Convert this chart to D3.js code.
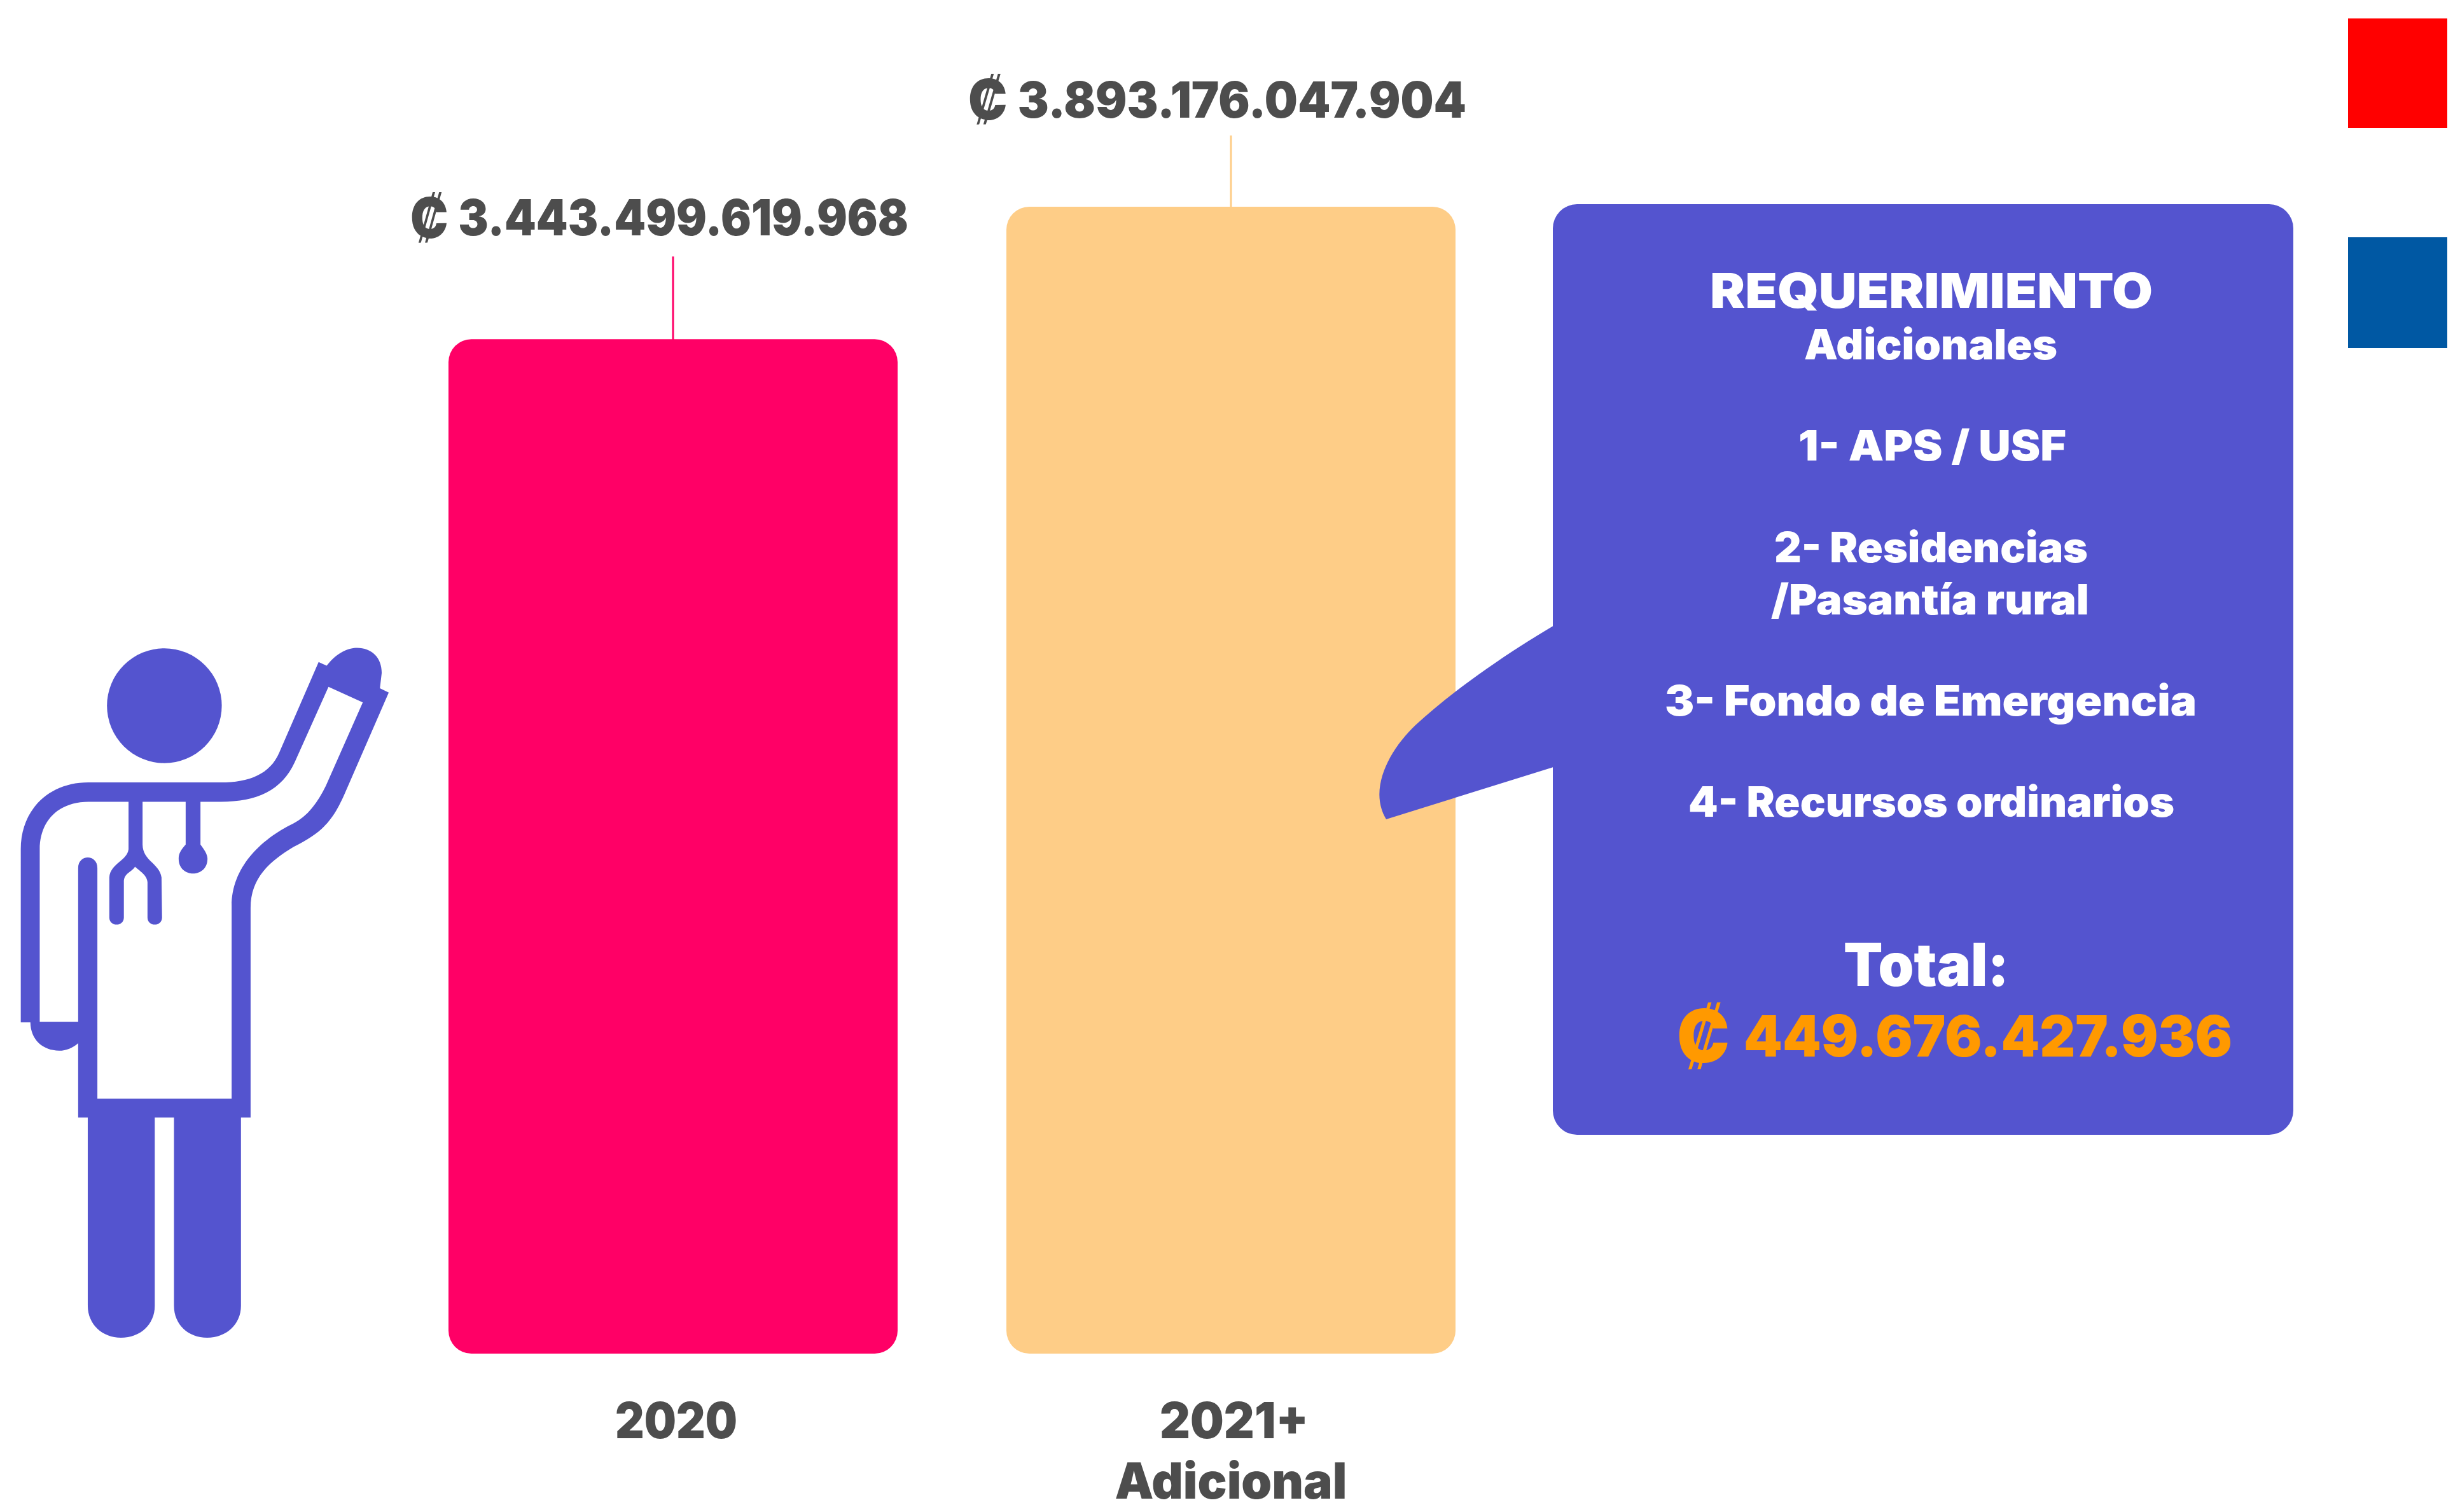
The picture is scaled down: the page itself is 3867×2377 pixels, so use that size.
<!DOCTYPE html>
<html>
<head>
<meta charset="utf-8">
<style>
  html, body { margin: 0; padding: 0; background: #fff; }
  svg { display: block; }
  text { font-family: Inter, "DejaVu Sans", sans-serif; font-weight: 900; }
</style>
<script src="https://cdn.jsdelivr.net/npm/d3@7"></script>
</head>
<body>
<div id="canvas"></div>
<script>
const categories = ["2020", "2021+\nAdicional"];
const values = [3443499619968, 3893176047904];
const valueLabels = ["3.443.499.619.968", "3.893.176.047.904"];
const barColors = ["#ff0066", "#fecd87"];
const legendColors = ["#ff0000", "#0058a3"];
const panelLines = [
  "REQUERIMIENTO", "Adicionales", "1- APS / USF", "2- Residencias",
  "/Pasantía rural", "3- Fondo de Emergencia", "4- Recursos ordinarios", "Total:",
  "449.676.427.936",
];
const currency = "₡ ";

const width = 3867;
const height = 2377;
const purple = "#5454cf";
const grey = "#4d4d4d";

const svg = d3.select("#canvas").append("svg")
  .attr("width", width)
  .attr("height", height);

const x = d3.scaleBand().domain(categories).range([705, 2288]).paddingInner(0.195);
const y = d3.scaleLinear().domain([0, values[1]]).range([2128, 325]);

// stretch a text to the width it has in the reference
function fit(sel, x0, x1) {
  return sel.attr("x", x0).attr("textLength", x1 - x0).attr("lengthAdjust", "spacingAndGlyphs");
}

// money text: the colon sign is drawn bigger than the digits in the source
function money(sel, amount, size, grow) {
  const shift = size * (grow - 1) * 0.36;
  sel.append("tspan").attr("font-size", size * grow).attr("dy", shift).text(currency);
  sel.append("tspan").attr("dy", -shift).text(amount);
}

const leaderGap = [130, 112];
const labelGap = [163, 140];

// leader lines sit behind the bars
svg.selectAll(".leader")
  .data(categories)
  .enter()
  .append("line")
  .attr("class", "leader")
  .attr("x1", (d) => x(d) + x.bandwidth() / 2)
  .attr("x2", (d) => x(d) + x.bandwidth() / 2)
  .attr("y1", (d, i) => y(values[i]) - leaderGap[i])
  .attr("y2", (d, i) => y(values[i]) + 2)
  .attr("stroke", (d, i) => barColors[i])
  .attr("stroke-width", 3);

svg.selectAll(".bar")
  .data(categories)
  .enter()
  .append("rect")
  .attr("class", "bar")
  .attr("x", (d) => x(d))
  .attr("y", (d, i) => y(values[i]))
  .attr("width", x.bandwidth())
  .attr("height", (d, i) => y(0) - y(values[i]))
  .attr("rx", 36)
  .attr("fill", (d, i) => barColors[i]);

// value labels above the leaders
svg.selectAll(".value")
  .data(valueLabels)
  .enter()
  .append("text")
  .attr("class", "value")
  .attr("y", (d, i) => y(values[i]) - labelGap[i])
  .attr("font-size", 78)
  .attr("fill", grey)
  .each(function (d, i) {
    const c = x(categories[i]) + x.bandwidth() / 2;
    const t = d3.select(this);
    money(t, d, 78, 1.12);
    fit(t, c - 413, c + 370);
  });

// category axis, second line of a label goes in a tspan
const axisWidths = { "2020": 192, "2021+": 234, "Adicional": 365 };
const axis = svg.append("g")
  .attr("transform", "translate(0,2128)")
  .call(d3.axisBottom(x).tickSize(0).tickPadding(0));
axis.select(".domain").remove();
axis.selectAll(".tick text").each(function (d) {
  const t = d3.select(this).text(null)
    .attr("y", 133).attr("dy", null)
    .attr("font-size", 78).attr("font-family", null)
    .style("fill", grey);
  d.split("\n").forEach((part, i) => {
    t.append("tspan")
      .attr("x", part === "Adicional" ? 0 : 5)
      .attr("dy", i ? 95 : 0)
      .attr("textLength", axisWidths[part])
      .attr("lengthAdjust", "spacingAndGlyphs")
      .text(part);
  });
});

// legend swatches, no labels in the source
svg.selectAll(".swatch")
  .data(legendColors)
  .enter()
  .append("rect")
  .attr("class", "swatch")
  .attr("x", 3691)
  .attr("y", (d, i) => 29 + i * 344)
  .attr("width", 156)
  .attr("height", (d, i) => 172 + i * 2)
  .attr("fill", (d) => d);

// speech bubble
svg.append("rect")
  .attr("x", 2441).attr("y", 321)
  .attr("width", 1164).attr("height", 1463)
  .attr("rx", 38)
  .attr("fill", purple);
svg.append("path")
  .attr("d", "M2445,982 C2380,1020 2290,1080 2225,1140 C2185,1178 2150,1240 2179,1288 L2445,1205 Z")
  .attr("fill", purple);

const panelLayout = [
  [2688, 3384, 484, 76], [2836, 3234, 565, 66], [2827, 3248, 724, 66], [2789, 3282, 884, 66],
  [2784, 3284, 966, 66], [2617, 3453, 1125, 66], [2654, 3418, 1284, 66], [2898, 3158, 1550, 94],
  [2636, 3509, 1661, 90],
];
svg.selectAll(".panel-line")
  .data(panelLines)
  .enter()
  .append("text")
  .attr("class", "panel-line")
  .attr("y", (d, i) => panelLayout[i][2])
  .attr("font-size", (d, i) => panelLayout[i][3])
  .attr("fill", (d, i) => (i === panelLines.length - 1 ? "#ff9900" : "#fff"))
  .each(function (d, i) {
    const t = d3.select(this);
    if (i === panelLines.length - 1) money(t, d, panelLayout[i][3], 1.28);
    else t.text(d);
    fit(t, panelLayout[i][0], panelLayout[i][1]);
  });

const person = svg.append("g")
  .attr("transform", "translate(0,980) scale(0.4082,0.7398)")
  .attr("fill", purple);
person.append("ellipse").attr("cx", 633).attr("cy", 175).attr("rx", 221).attr("ry", 122);
person.append("path")
  .attr("fill-rule", "evenodd")
  .attr("d", "M1227,82 L1258,90 C1300,60 1345,52 1375,52 C1430,52 1470,72 1470,105 L1463,138 L1497,147 " +
    "L1325,365 C1280,420 1240,445 1130,475 C1040,505 965,540 965,605 L965,1050 L928,1050 L928,1450 " +
    "C928,1490 870,1518 798,1518 C725,1518 670,1490 670,1450 L670,1050 L596,1050 L596,1450 " +
    "C596,1490 540,1518 466,1518 C395,1518 338,1490 338,1450 L338,1050 L301,1050 L301,892 " +
    "C280,902 255,908 228,908 C165,908 118,885 117,848 L80,848 L80,480 C80,395 190,338 340,338 " +
    "L850,338 C960,338 1040,320 1075,275 Z " +
    "M1265,135 L1397,168 L1255,345 C1215,390 1175,412 1130,425 C1000,460 892,520 892,600 L892,1010 " +
    "L375,1010 L375,520 C375,490 301,490 301,520 L301,847 L153,847 L153,480 C153,420 225,379 340,379 " +
    "L850,379 C990,379 1085,355 1135,295 Z");
person.append("path")
  .attr("d", "M495,375 L495,480 C490,505 425,510 421,540 L421,625 C421,645 477,645 477,625 L477,550 " +
    "C477,530 505,530 520,517 C535,525 567,535 568,550 L568,625 C568,645 624,645 624,625 L622,540 " +
    "C615,510 550,505 549,470 L549,375 Z");
person.append("path")
  .attr("d", "M715,375 L715,470 C695,482 688,490 688,500 C688,542 799,542 799,500 C799,490 785,480 772,470 L772,375 Z");
</script>
</body>
</html>
